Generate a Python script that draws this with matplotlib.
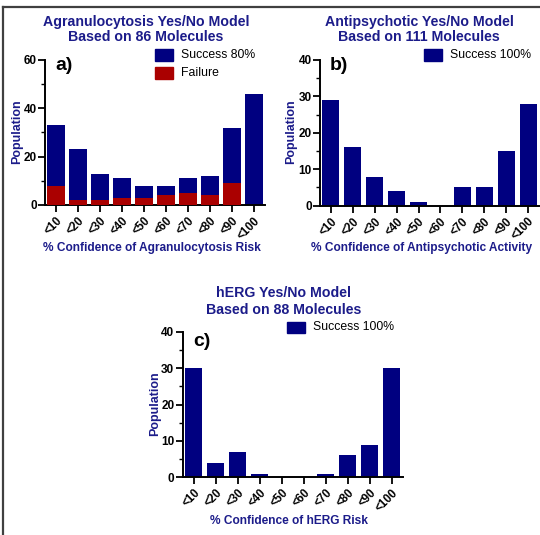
import matplotlib
matplotlib.use("Agg")
import matplotlib.pyplot as plt
from matplotlib.patches import Rectangle
from matplotlib.lines import Line2D
from matplotlib.ticker import MultipleLocator

plt.rcParams['font.family'] = ['Liberation Sans', 'DejaVu Sans']

categories = ["<10", "<20", "<30", "<40", "<50", "<60", "<70", "<80", "<90", "<100"]
agran_total = [33, 23, 13, 11, 8, 8, 11, 12, 32, 46]
agran_failure = [8, 2, 2, 3, 3, 4, 5, 4, 9, 0]
antipsy_success = [29, 16, 8, 4, 1, 0, 5, 5, 15, 28]
herg_success = [30, 4, 7, 1, 0, 0, 1, 6, 9, 30]

NAVY = "#000080"
RED = "#aa0000"
TXT = "#1c1c8a"

W, H = 540, 535
fig = plt.figure(figsize=(W / 100, H / 100), dpi=100)


def fx(x):
    return x / W


def fy(y):
    return 1 - y / H


def make_ax(left, right, top, bottom, ymax, major, minor):
    ax = fig.add_axes([fx(left), fy(bottom), fx(right - left), (bottom - top) / H])
    ax.set_xlim(-0.5, 9.5)
    ax.set_ylim(0, ymax)
    for s in ['top', 'right']:
        ax.spines[s].set_visible(False)
    for s in ['left', 'bottom']:
        ax.spines[s].set_linewidth(1.4)
    ax.yaxis.set_major_locator(MultipleLocator(major))
    ax.yaxis.set_minor_locator(MultipleLocator(minor))
    ax.tick_params(axis='y', which='major', length=5, width=1.3, labelsize=8.5, pad=1)
    ax.tick_params(axis='y', which='minor', length=3, width=1.0)
    ax.tick_params(axis='x', which='major', length=5, width=1.3, labelsize=8.3, pad=2)
    ax.set_xticks(range(len(categories)))
    ax.set_xticklabels(categories, rotation=45, ha='right', va='top',
                       rotation_mode='anchor', fontweight='bold')
    for lab in ax.get_yticklabels():
        lab.set_fontweight('bold')
    ax.patch.set_alpha(0)
    return ax


def legend_entry(x, y, color, text):
    fig.patches.append(Rectangle((fx(x), fy(y + 5.5)), 18 / W, 11 / H, color=color,
                                 transform=fig.transFigure, figure=fig))
    fig.text(fx(x + 26), fy(y), text, fontsize=8.8, va='center', ha='left')


def titles(cx, y1, y2, l1, l2):
    fig.text(fx(cx), fy(y1), l1, fontsize=10.2, fontweight='bold', color=TXT, ha='center', va='center')
    fig.text(fx(cx), fy(y2), l2, fontsize=10.2, fontweight='bold', color=TXT, ha='center', va='center')


x = list(range(len(categories)))
bw = 0.78

# Panel a
axa = make_ax(45, 265, 60, 205, 60, 20, 10)
axa.bar(x, agran_total, width=bw, color=NAVY, zorder=2)
axa.bar(x, agran_failure, width=bw, color=RED, zorder=3)
titles(146, 22, 37, "Agranulocytosis Yes/No Model", "Based on 86 Molecules")
legend_entry(155, 55, NAVY, "Success 80%")
legend_entry(155, 73, RED, "Failure")
fig.text(fx(55), fy(66), "a)", fontsize=14, fontweight='bold', va='center', ha='left')
fig.text(fx(17), fy(132), "Population", fontsize=9, fontweight='bold', color=TXT,
         rotation=90, ha='center', va='center')
fig.text(fx(152), fy(248), "% Confidence of Agranulocytosis Risk", fontsize=8.6, fontweight='bold',
         color=TXT, ha='center', va='center')

# Panel b
axb = make_ax(320, 539, 60, 205.7, 40, 10, 5)
axb.bar(x, antipsy_success, width=bw, color=NAVY, zorder=2)
titles(419, 22, 37, "Antipsychotic Yes/No Model", "Based on 111 Molecules")
legend_entry(424, 55, NAVY, "Success 100%")
fig.text(fx(330), fy(66), "b)", fontsize=14, fontweight='bold', va='center', ha='left')
fig.text(fx(291.5), fy(132), "Population", fontsize=9, fontweight='bold', color=TXT,
         rotation=90, ha='center', va='center')
fig.text(fx(422), fy(248), "% Confidence of Antipsychotic Activity", fontsize=8.6, fontweight='bold',
         color=TXT, ha='center', va='center')

# Panel c
axc = make_ax(182.7, 402.7, 331.7, 477.3, 40, 10, 5)
axc.bar(x, herg_success, width=bw, color=NAVY, zorder=2)
titles(284, 293, 310, "hERG Yes/No Model", "Based on 88 Molecules")
legend_entry(287, 327, NAVY, "Success 100%")
fig.text(fx(193), fy(341), "c)", fontsize=14, fontweight='bold', va='center', ha='left')
fig.text(fx(155), fy(404), "Population", fontsize=9, fontweight='bold', color=TXT,
         rotation=90, ha='center', va='center')
fig.text(fx(289.5), fy(521), "% Confidence of hERG Risk", fontsize=8.6, fontweight='bold',
         color=TXT, ha='center', va='center')

# Outer frame (top and left)
fig.lines.append(Line2D([fx(3), 1], [fy(7), fy(7)], color='#404040', lw=1.6, transform=fig.transFigure))
fig.lines.append(Line2D([fx(3), fx(3)], [fy(7), 0], color='#404040', lw=1.6, transform=fig.transFigure))

fig.savefig("out.png", dpi=100)
